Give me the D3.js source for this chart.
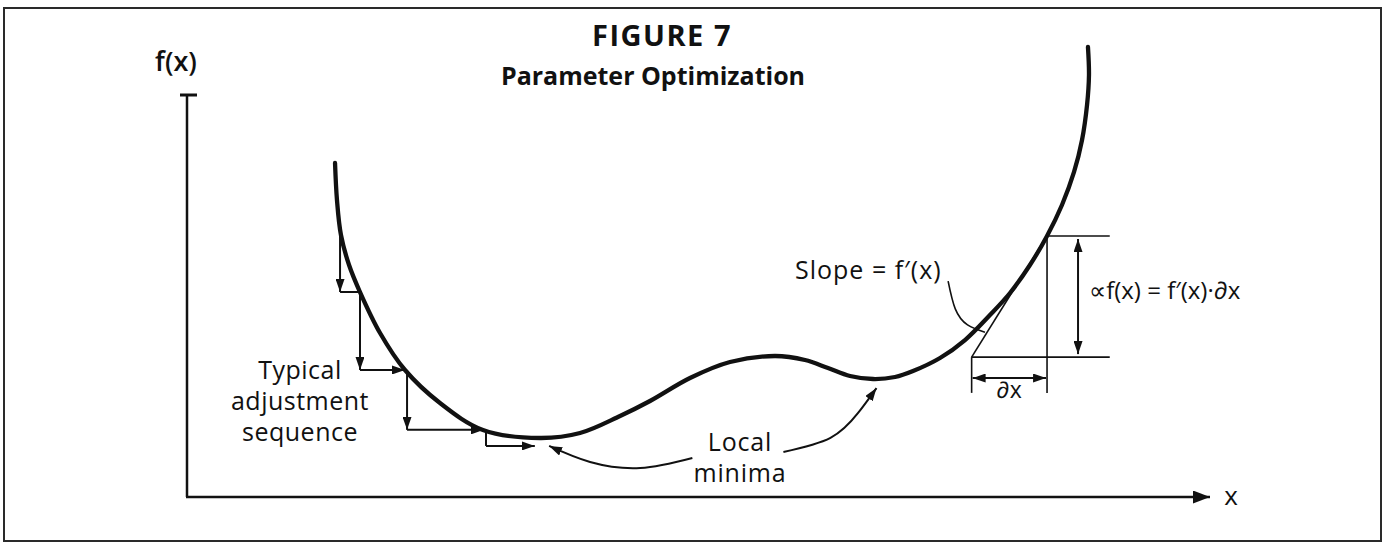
<!DOCTYPE html>
<html>
<head>
<meta charset="utf-8">
<script src="https://cdn.jsdelivr.net/npm/d3@7/dist/d3.min.js"></script>
<style>
  html, body { margin: 0; padding: 0; background: #fff; }
  svg { display: block; }
  text { font-family: "Open Sans", "Noto Sans", "DejaVu Sans", sans-serif; fill: #111; }
</style>
</head>
<body>
<svg id="chart" width="1383" height="544"></svg>
<script>
// ---------- data (abstract units: x 0..100, f(x) 0..100) ----------
const curveX = [14.47, 14.66, 15.05, 15.84, 16.91, 18.87, 21.31, 24.73, 28.93, 34.51, 38.42, 42.33, 45.26, 49.17, 53.08, 57.48, 60.41, 62.66, 64.81, 67.06, 69.21, 70.97, 73.61, 76.05, 78.49, 80.45, 82.40, 84.07, 85.53, 86.71, 87.49, 87.98, 88.17, 88.07];
const curveY = [83.08, 73.88, 65.17, 57.71, 50.99, 40.80, 31.59, 23.38, 16.67, 14.68, 15.92, 20.15, 23.88, 29.60, 33.58, 35.07, 34.08, 32.09, 30.10, 29.35, 29.85, 31.34, 34.58, 39.05, 45.27, 50.75, 57.71, 64.93, 72.64, 80.85, 88.81, 97.51, 104.98, 111.94];

// adjustment sequence (descent steps)
const stepX = [14.96, 16.91, 21.51, 29.23, 34.2];
const stepY = [65.9, 51.0, 31.6, 16.7, 12.7];

// "Local minima" pointer paths
const leftPtrX = [49.4, 44.3, 39.4, 35.4];
const leftPtrY = [9.7, 7.2, 8.7, 12.7];
const rightPtrX = [58.3, 62.9, 65.6, 67.4];
const rightPtrY = [11.2, 14.7, 20.9, 27.1];

// slope pointer
const slopePtrX = [74.4, 75.1, 76.3, 78.0];
const slopePtrY = [53.7, 46.8, 42.8, 41.0];

// tangent / derivative construction
const tanX0 = 76.7, tanX1 = 84.07;  // foot and touching point of tangent
const tanY0 = 34.8, tanY1 = 64.93;
const dimRight = 90.2;              // right end of the horizontal guide lines
const dimArrowX = 87.1;             // x of the vertical double arrow
const dxArrowY = 29.6;              // y of the horizontal ∂x double arrow
const dimBottom = 25.9;             // bottom of the ∂x extension lines

const titleLines = ["FIGURE 7", "Parameter Optimization"];
const seqLabel = ["Typical", "adjustment", "sequence"];
const minimaLabel = ["Local", "minima"];

// ---------- scales ----------
const x = d3.scaleLinear().domain([0, 100]).range([187, 1210]);
const y = d3.scaleLinear().domain([0, 100]).range([497, 95]);

const svg = d3.select("#chart");
const ink = "#111";

// arrow markers
const defs = svg.append("defs");
function marker(id, len, wid) {
  defs.append("marker")
    .attr("id", id)
    .attr("viewBox", `0 ${-wid/2} ${len} ${wid}`)
    .attr("refX", len).attr("refY", 0)
    .attr("markerWidth", len).attr("markerHeight", wid)
    .attr("markerUnits", "userSpaceOnUse")
    .attr("orient", "auto-start-reverse")
    .append("path")
    .attr("d", `M0,${-wid/2}L${len},0L0,${wid/2}Z`)
    .attr("fill", ink);
}
marker("ah", 13, 9);
marker("ahBig", 17, 13);

// frame
svg.append("rect")
  .attr("x", 4).attr("y", 8).attr("width", 1377).attr("height", 533)
  .attr("fill", "none").attr("stroke", "#2a2a2a").attr("stroke-width", 2);

// axes
svg.append("line")
  .attr("x1", x(0)).attr("y1", y(0)).attr("x2", x(0)).attr("y2", y(100))
  .attr("stroke", ink).attr("stroke-width", 2.5);
svg.append("line")
  .attr("x1", x(0) - 7).attr("y1", y(100)).attr("x2", x(0) + 10).attr("y2", y(100))
  .attr("stroke", ink).attr("stroke-width", 3);
svg.append("line")
  .attr("x1", x(0) - 1).attr("y1", y(0)).attr("x2", x(100)).attr("y2", y(0))
  .attr("stroke", ink).attr("stroke-width", 2.5)
  .attr("marker-end", "url(#ahBig)");

svg.append("text").attr("x", 176).attr("y", 71).attr("text-anchor", "middle")
  .attr("font-size", 27).attr("font-weight", 600).text("f(x)");
svg.append("text").attr("x", 1231).attr("y", 505).attr("text-anchor", "middle")
  .attr("font-size", 26).text("x");

// title
svg.append("text").attr("x", 662).attr("y", 46).attr("text-anchor", "middle")
  .attr("font-size", 29).attr("font-weight", 700).attr("letter-spacing", 1.5).text(titleLines[0]);
svg.append("text").attr("x", 653).attr("y", 85).attr("text-anchor", "middle")
  .attr("font-size", 25).attr("font-weight", 700).text(titleLines[1]);

// main curve
const pts = curveX.map((v, i) => [v, curveY[i]]);
const line = d3.line().x(d => x(d[0])).y(d => y(d[1])).curve(d3.curveCatmullRom.alpha(0.5));
svg.append("path").attr("d", line(pts))
  .attr("fill", "none").attr("stroke", ink).attr("stroke-width", 4.3)
  .attr("stroke-linecap", "round");

// adjustment sequence
function seg(x1, y1, x2, y2, withArrow) {
  const l = svg.append("line")
    .attr("x1", x(x1)).attr("y1", y(y1)).attr("x2", x(x2)).attr("y2", y(y2))
    .attr("stroke", ink).attr("stroke-width", 2);
  if (withArrow) l.attr("marker-end", "url(#ah)");
  return l;
}
for (let i = 0; i < stepX.length - 1; i++) {
  const vLen = Math.abs(y(stepY[i + 1]) - y(stepY[i]));
  seg(stepX[i], stepY[i], stepX[i], stepY[i + 1], vLen > 25);
  const hLen = Math.abs(x(stepX[i + 1]) - x(stepX[i]));
  const endX = hLen > 25 ? stepX[i + 1] - 0.2 : stepX[i + 1];
  seg(stepX[i], stepY[i + 1], endX, stepY[i + 1], hLen > 25);
}
seqLabel.forEach((t, i) => {
  svg.append("text").attr("x", 300).attr("y", 379 + i * 31).attr("text-anchor", "middle")
    .attr("font-size", 25).attr("letter-spacing", 0.5).text(t);
});

// local minima pointers
const ptr = d3.line().x(d => x(d[0])).y(d => y(d[1])).curve(d3.curveNatural);
svg.append("path").attr("d", ptr(leftPtrX.map((v, i) => [v, leftPtrY[i]])))
  .attr("fill", "none").attr("stroke", ink).attr("stroke-width", 2)
  .attr("marker-end", "url(#ah)");
svg.append("path").attr("d", ptr(rightPtrX.map((v, i) => [v, rightPtrY[i]])))
  .attr("fill", "none").attr("stroke", ink).attr("stroke-width", 2)
  .attr("marker-end", "url(#ah)");
minimaLabel.forEach((t, i) => {
  svg.append("text").attr("x", 740).attr("y", 451 + i * 31).attr("text-anchor", "middle")
    .attr("font-size", 25).attr("letter-spacing", 0.8).text(t);
});

// slope annotation
svg.append("text").attr("x", 795).attr("y", 279).attr("font-size", 25).attr("letter-spacing", 1)
  .text("Slope = f\u2032(x)");
svg.append("path").attr("d", ptr(slopePtrX.map((v, i) => [v, slopePtrY[i]])))
  .attr("fill", "none").attr("stroke", ink).attr("stroke-width", 1.6);

// tangent construction
const thin = 1.6;
svg.append("line").attr("x1", x(tanX0)).attr("y1", y(tanY0)).attr("x2", x(tanX1)).attr("y2", y(tanY1))
  .attr("stroke", ink).attr("stroke-width", thin);
svg.append("line").attr("x1", x(tanX1)).attr("y1", y(tanY1)).attr("x2", x(tanX1)).attr("y2", y(dimBottom))
  .attr("stroke", ink).attr("stroke-width", thin);
svg.append("line").attr("x1", x(tanX0)).attr("y1", y(tanY0)).attr("x2", x(tanX0)).attr("y2", y(dimBottom))
  .attr("stroke", ink).attr("stroke-width", thin);
svg.append("line").attr("x1", x(tanX1)).attr("y1", y(tanY1)).attr("x2", x(dimRight)).attr("y2", y(tanY1))
  .attr("stroke", ink).attr("stroke-width", thin);
svg.append("line").attr("x1", x(tanX0)).attr("y1", y(tanY0)).attr("x2", x(dimRight)).attr("y2", y(tanY0))
  .attr("stroke", ink).attr("stroke-width", thin);
svg.append("line").attr("x1", x(dimArrowX)).attr("y1", y(tanY1) + 3).attr("x2", x(dimArrowX)).attr("y2", y(tanY0) - 3)
  .attr("stroke", ink).attr("stroke-width", 2)
  .attr("marker-start", "url(#ah)").attr("marker-end", "url(#ah)");
svg.append("line").attr("x1", x(tanX0) + 1).attr("y1", y(dxArrowY)).attr("x2", x(tanX1) - 1).attr("y2", y(dxArrowY))
  .attr("stroke", ink).attr("stroke-width", 2)
  .attr("marker-start", "url(#ah)").attr("marker-end", "url(#ah)");
svg.append("text").attr("x", 1009).attr("y", 398).attr("text-anchor", "middle")
  .attr("font-size", 23).text("\u2202x");
svg.append("text").attr("x", 1089).attr("y", 299).attr("font-size", 24)
  .text("\u221Df(x) = f\u2032(x)\u00B7\u2202x");
</script>
</body>
</html>
